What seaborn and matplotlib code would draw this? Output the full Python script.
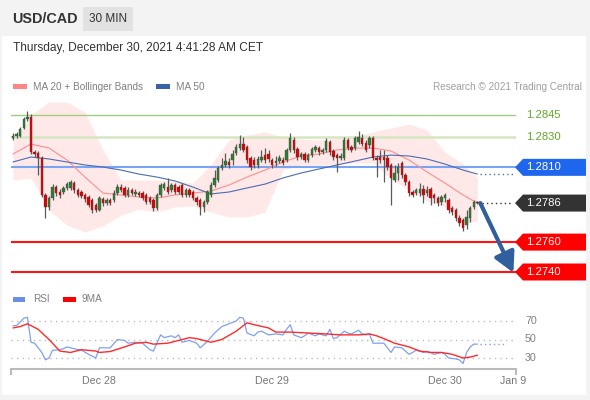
import numpy as np
import pandas as pd
import matplotlib
matplotlib.use("Agg")
import matplotlib.pyplot as plt
import matplotlib.transforms as mtransforms
from matplotlib.patches import Rectangle, Polygon
import seaborn as sns

# ---------------- data ----------------
# 30-minute candles, Dec 27 12:00 -> Dec 30 04:30 (index = candle number)
opens = [1.28296, 1.28310, 1.28310, 1.28363, 1.28423, 1.28437, 1.28202, 1.28196, 1.28162, 1.27915,
         1.27835, 1.27895, 1.27968, 1.27935, 1.27935, 1.27962, 1.27962, 1.27995, 1.27948, 1.27935,
         1.27915, 1.27902, 1.27881, 1.27848, 1.27815, 1.27888, 1.27861, 1.27881, 1.27881, 1.27928,
         1.27968, 1.27962, 1.27915, 1.27948, 1.27922, 1.27928, 1.27928, 1.27915, 1.27895, 1.27881,
         1.27828, 1.27915, 1.27962, 1.27968, 1.27948, 1.27982, 1.27968, 1.27982, 1.27915, 1.27948,
         1.27935, 1.27895, 1.27881, 1.27835, 1.27868, 1.27915, 1.27982, 1.28015, 1.28095, 1.28116,
         1.28136, 1.28149, 1.28196, 1.28229, 1.28256, 1.28236, 1.28162, 1.28149, 1.28116, 1.28149,
         1.28182, 1.28189, 1.28149, 1.28129, 1.28142, 1.28149, 1.28149, 1.28216, 1.28283, 1.28223,
         1.28169, 1.28189, 1.28149, 1.28182, 1.28216, 1.28229, 1.28202, 1.28216, 1.28269, 1.28209,
         1.28182, 1.28162, 1.28162, 1.28283, 1.28236, 1.28229, 1.28269, 1.28296, 1.28263, 1.28249,
         1.28296, 1.28162, 1.28169, 1.28169, 1.28162, 1.28116, 1.28015, 1.28062, 1.28129, 1.28049,
         1.28002, 1.27935, 1.27928, 1.27928, 1.27955, 1.27928, 1.27955, 1.27915, 1.27895, 1.27868,
         1.27895, 1.27881, 1.27828, 1.27815, 1.27761, 1.27748, 1.27714, 1.27761, 1.27835, 1.27868]
highs = [1.28330, 1.28336, 1.28370, 1.28437, 1.28477, 1.28457, 1.28216, 1.28209, 1.28176, 1.27928,
         1.27908, 1.27988, 1.27982, 1.27955, 1.27975, 1.28002, 1.28015, 1.28009, 1.27962, 1.27948,
         1.27928, 1.27915, 1.27895, 1.27861, 1.27908, 1.27902, 1.27895, 1.27895, 1.27948, 1.27988,
         1.27988, 1.27975, 1.27968, 1.27962, 1.27955, 1.27942, 1.27942, 1.27928, 1.27908, 1.27895,
         1.27928, 1.27995, 1.28002, 1.28029, 1.27995, 1.27995, 1.27982, 1.27995, 1.27962, 1.27962,
         1.27948, 1.27908, 1.27895, 1.27881, 1.27948, 1.28002, 1.28082, 1.28109, 1.28162, 1.28196,
         1.28162, 1.28216, 1.28256, 1.28316, 1.28303, 1.28249, 1.28176, 1.28169, 1.28176, 1.28216,
         1.28229, 1.28216, 1.28162, 1.28176, 1.28182, 1.28169, 1.28229, 1.28330, 1.28303, 1.28236,
         1.28202, 1.28202, 1.28196, 1.28236, 1.28249, 1.28243, 1.28229, 1.28296, 1.28283, 1.28223,
         1.28196, 1.28196, 1.28303, 1.28296, 1.28249, 1.28310, 1.28343, 1.28323, 1.28283, 1.28310,
         1.28310, 1.28182, 1.28216, 1.28216, 1.28182, 1.28129, 1.28116, 1.28129, 1.28142, 1.28062,
         1.28015, 1.27948, 1.27962, 1.27995, 1.27982, 1.27975, 1.27968, 1.27928, 1.27908, 1.27915,
         1.27928, 1.27895, 1.27841, 1.27828, 1.27781, 1.27761, 1.27815, 1.27841, 1.27881, 1.27875]
lows = [1.28283, 1.28296, 1.28303, 1.28356, 1.28410, 1.28189, 1.28169, 1.28049, 1.27902, 1.27761,
        1.27815, 1.27881, 1.27908, 1.27895, 1.27922, 1.27948, 1.27948, 1.27928, 1.27902, 1.27895,
        1.27868, 1.27835, 1.27795, 1.27801, 1.27808, 1.27841, 1.27848, 1.27848, 1.27868, 1.27915,
        1.27935, 1.27902, 1.27902, 1.27915, 1.27908, 1.27902, 1.27881, 1.27855, 1.27855, 1.27808,
        1.27815, 1.27902, 1.27948, 1.27922, 1.27935, 1.27922, 1.27922, 1.27902, 1.27902, 1.27902,
        1.27881, 1.27848, 1.27781, 1.27801, 1.27855, 1.27902, 1.27968, 1.28002, 1.28082, 1.28102,
        1.28095, 1.28116, 1.28182, 1.28216, 1.28202, 1.28129, 1.28082, 1.28095, 1.28095, 1.28136,
        1.28129, 1.28136, 1.28095, 1.28109, 1.28129, 1.28116, 1.28136, 1.28202, 1.28196, 1.28149,
        1.28156, 1.28136, 1.28136, 1.28169, 1.28202, 1.28182, 1.28189, 1.28202, 1.28182, 1.28149,
        1.28069, 1.28149, 1.28149, 1.28216, 1.28202, 1.28216, 1.28256, 1.28243, 1.28202, 1.28229,
        1.28149, 1.28035, 1.28129, 1.28002, 1.28082, 1.27848, 1.28002, 1.28015, 1.28029, 1.27982,
        1.27908, 1.27902, 1.27915, 1.27908, 1.27861, 1.27908, 1.27848, 1.27861, 1.27841, 1.27848,
        1.27868, 1.27795, 1.27781, 1.27741, 1.27708, 1.27674, 1.27688, 1.27734, 1.27821, 1.27855]
closes = [1.28310, 1.28323, 1.28356, 1.28423, 1.28437, 1.28202, 1.28189, 1.28162, 1.27915, 1.27835,
          1.27895, 1.27968, 1.27928, 1.27915, 1.27962, 1.27988, 1.28002, 1.27948, 1.27915, 1.27908,
          1.27888, 1.27848, 1.27815, 1.27815, 1.27895, 1.27861, 1.27881, 1.27861, 1.27928, 1.27968,
          1.27948, 1.27915, 1.27948, 1.27928, 1.27935, 1.27915, 1.27895, 1.27868, 1.27868, 1.27828,
          1.27915, 1.27982, 1.27988, 1.27935, 1.27982, 1.27935, 1.27935, 1.27915, 1.27948, 1.27915,
          1.27895, 1.27868, 1.27835, 1.27868, 1.27935, 1.27982, 1.28029, 1.28095, 1.28116, 1.28142,
          1.28116, 1.28189, 1.28236, 1.28256, 1.28216, 1.28149, 1.28102, 1.28116, 1.28156, 1.28169,
          1.28149, 1.28156, 1.28116, 1.28142, 1.28162, 1.28129, 1.28216, 1.28296, 1.28216, 1.28169,
          1.28189, 1.28149, 1.28182, 1.28223, 1.28236, 1.28202, 1.28216, 1.28276, 1.28202, 1.28169,
          1.28162, 1.28176, 1.28283, 1.28229, 1.28216, 1.28296, 1.28303, 1.28256, 1.28216, 1.28296,
          1.28162, 1.28149, 1.28149, 1.28149, 1.28102, 1.28029, 1.28062, 1.28102, 1.28049, 1.28002,
          1.27928, 1.27915, 1.27948, 1.27955, 1.27915, 1.27948, 1.27895, 1.27895, 1.27861, 1.27902,
          1.27915, 1.27815, 1.27801, 1.27761, 1.27728, 1.27694, 1.27768, 1.27828, 1.27868, 1.27861]

# indicators, read every 5 candles
ind_idx = [0, 5, 10, 15, 20, 25, 30, 35, 40, 45, 50, 55, 60, 65, 70, 75, 80, 85, 90, 95,
           100, 105, 110, 115, 120, 125, 129]
ma20 = [1.28189, 1.28256, 1.28229, 1.28149, 1.28035, 1.27928, 1.27915, 1.27902, 1.27895, 1.27915,
        1.27928, 1.27942, 1.27982, 1.28035, 1.28082, 1.28136, 1.28176, 1.28189, 1.28216, 1.28229,
        1.28229, 1.28209, 1.28149, 1.28069, 1.27995, 1.27915, 1.27861]
bb_upper = [1.28269, 1.28450, 1.28537, 1.28537, 1.28470, 1.28216, 1.28015, 1.28015, 1.28015, 1.28009,
            1.27995, 1.28116, 1.28283, 1.28316, 1.28336, 1.28303, 1.28289, 1.28283, 1.28296, 1.28310,
            1.28336, 1.28363, 1.28390, 1.28350, 1.28202, 1.28122, 1.28029]
bb_lower = [1.28015, 1.28029, 1.27815, 1.27714, 1.27667, 1.27708, 1.27781, 1.27821, 1.27801, 1.27835,
            1.27841, 1.27801, 1.27768, 1.27768, 1.27801, 1.28082, 1.28116, 1.28116, 1.28122, 1.28129,
            1.28129, 1.28022, 1.27948, 1.27875, 1.27835, 1.27728, 1.27741]
ma50 = [1.28136, 1.28169, 1.28156, 1.28136, 1.28116, 1.28102, 1.28082, 1.28055, 1.28035, 1.28009,
        1.27968, 1.27922, 1.27935, 1.27962, 1.27988, 1.28029, 1.28062, 1.28089, 1.28116, 1.28142,
        1.28169, 1.28182, 1.28176, 1.28156, 1.28122, 1.28082, 1.28055]

rsi_idx = [0, 1, 3, 4, 5, 6, 8, 9, 10, 11, 12, 14, 15, 17, 19, 21, 23, 24, 26, 27,
           29, 31, 32, 34, 36, 38, 39, 41, 42, 44, 45, 46, 47, 49, 51, 52, 54, 56, 58, 60,
           62, 63, 64, 65, 67, 68, 69, 71, 73, 75, 76, 77, 78, 80, 81, 82, 84, 85, 87, 88,
           89, 90, 92, 93, 94, 96, 97, 98, 99, 100, 101, 103, 105, 106, 108, 110, 111, 112, 114, 115,
           117, 119, 120, 121, 123, 124, 125, 126, 127, 128, 129]
rsi_val = [65, 65, 73, 74, 47, 46, 36, 28, 30, 38.5, 38.5, 40, 42, 40, 38.5, 34, 30, 41, 41, 41,
           50, 49, 46, 47, 46, 39, 37.5, 55, 52, 54, 52, 55, 47, 49, 46, 41, 48, 57, 64, 67,
           70, 74, 73, 57, 54, 58, 59, 55, 56, 55, 61, 66, 55, 52, 54, 57, 54, 56, 54, 61,
           51, 52, 59, 57, 56, 60, 56, 55, 56, 46, 46, 46, 36, 42, 41, 34, 36, 38.5, 36, 37.5,
           34, 36, 34, 30, 29, 28, 24, 36, 42, 45, 45]
ma9_idx = [0, 2, 4, 7, 10, 13, 16, 19, 23, 24, 27, 31, 34, 37, 39, 43, 46, 49, 51, 55,
           58, 62, 65, 67, 71, 73, 77, 82, 87, 91, 96, 99, 101, 103, 106, 110, 113, 116, 119, 122,
           125, 127, 129]
ma9_val = [62.5, 64, 67, 61, 50, 37.5, 36, 39, 37.5, 36, 37, 42, 46, 47, 45, 46, 49, 52, 51, 47,
           50, 59, 68, 66, 62.5, 58, 58, 57, 56, 55, 55, 56, 54, 51, 46, 42, 37.5, 36, 36, 34,
           30, 31, 33]

levels = [1.2845, 1.2830, 1.2810, 1.2760, 1.2740]
level_labels = ["1.2845", "1.2830", "1.2810", "1.2760", "1.2740"]
last_price_label = "1.2786"
tick_pos = [24, 72, 120, 139]
tick_labels = ["Dec 28", "Dec 29", "Dec 30", "Jan 9"]
rsi_levels = [70, 50, 30]

# ---------------- style ----------------
sns.set_theme(style="white")
plt.rcParams['font.family'] = ['Liberation Sans', 'DejaVu Sans']

W, H = 590, 400
fig = plt.figure(figsize=(W / 100, H / 100), dpi=100, facecolor='#f3f3f3')


def fx(x):
    return x / W


def fy(y):
    return 1 - y / H


fig.patches.append(Rectangle((fx(2), fy(395)), (586 - 2) / W, (395 - 36) / H,
                             transform=fig.transFigure, facecolor='white',
                             edgecolor='none', zorder=-10))

# header
fig.text(fx(12), fy(19), "USD/CAD", fontsize=10.4, fontweight='bold', color='#333333', va='center')
fig.patches.append(Rectangle((fx(83), fy(31)), 50 / W, 24 / H, transform=fig.transFigure,
                             facecolor='#e2e2e2', edgecolor='none', zorder=-5))
fig.text(fx(108), fy(19.5), "30 MIN", fontsize=8.5, color='#333333', ha='center', va='center')
fig.text(fx(13), fy(48), "Thursday, December 30, 2021 4:41:28 AM CET", fontsize=8.6,
         color='#333333', va='center')

# legend top
fig.patches.append(Rectangle((fx(13), fy(89)), 14 / W, 5 / H, transform=fig.transFigure,
                             facecolor='#ff8585', edgecolor='none', zorder=-5))
fig.text(fx(33), fy(86.5), "MA 20 + Bollinger Bands", fontsize=7.2, color='#808080', va='center')
fig.patches.append(Rectangle((fx(156), fy(89)), 14 / W, 5 / H, transform=fig.transFigure,
                             facecolor='#3a62a8', edgecolor='none', zorder=-5))
fig.text(fx(176), fy(86.5), "MA 50", fontsize=7.2, color='#808080', va='center')
fig.text(fx(582), fy(86.5), "Research \u00a9 2021 Trading Central", fontsize=7.2,
         color='#a0a0a0', va='center', ha='right')

XMIN, XMAX = (11 - 13) / 3.6, (516 - 13) / 3.6

# ---------------- main price panel ----------------
ax = fig.add_axes([fx(11), fy(285), (516 - 11) / W, 190 / H])
ax.set_facecolor('none')
ax.set_xlim(XMIN, XMAX)
ax.set_ylim(1.27313, 1.28584)
ax.axis('off')

ax.fill_between(ind_idx, bb_lower, bb_upper, color='#ffe8e8', lw=0, zorder=1)

level_styles = [('#9fcf7c', 1.0), ('#d4e7c1', 1.8), ('#78a4f6', 1.5), ('#ff1414', 1.5), ('#ff1414', 1.5)]
for lv, (c, lw) in zip(levels, level_styles):
    ax.axhline(lv, color=c, lw=lw, zorder=2)

df_ind = pd.DataFrame({'idx': ind_idx, 'ma20': ma20, 'ma50': ma50})
sns.lineplot(data=df_ind, x='idx', y='ma20', ax=ax, color='#ff8e8e', linewidth=0.8, zorder=3)
sns.lineplot(data=df_ind, x='idx', y='ma50', ax=ax, color='#4a6db2', linewidth=0.8, zorder=3)
ax.set_xlabel('')
ax.set_ylabel('')
ax.set_xlim(XMIN, XMAX)
ax.set_ylim(1.27313, 1.28584)

# candles
idx = np.arange(len(closes))
o = np.array(opens)
c = np.array(closes)
hi = np.array(highs)
lo = np.array(lows)
ax.vlines(idx, lo, hi, color='#5a5a5a', lw=0.9, zorder=4)
bottoms = np.minimum(o, c)
heights = np.maximum(np.abs(c - o), 0.00004)
cols = np.where(c >= o, '#2e7d32', '#e00000')
ax.bar(idx, heights, bottom=bottoms, width=0.72, color=cols, edgecolor='#444444',
       linewidth=0.25, zorder=5)

# dotted continuations
ax.plot([ind_idx[-1] + 0.8, 138.8], [ma50[-1], ma50[-1]], ls=(0, (1, 2.2)), color='#4a6db2',
        lw=1.0, zorder=3, clip_on=False)
ax.plot([idx[-1] + 1.2, 138.8], [closes[-1], closes[-1]], ls=(0, (1, 2.2)), color='#333333',
        lw=1.0, zorder=3, clip_on=False)

# forecast arrow
ax.annotate('', xy=(139.0, 1.27395), xytext=(129.8, closes[-1]),
            arrowprops=dict(arrowstyle='-|>,head_length=0.6,head_width=0.32', color='#2f5f9f',
                            lw=3.0, shrinkA=0, shrinkB=0, mutation_scale=20),
            annotation_clip=False, zorder=6)

# labels on the right
blend = mtransforms.blended_transform_factory(fig.transFigure, ax.transData)
hh = 8.5 * (1.28584 - 1.27313) / 190


def tag(price, text, face):
    pts = [(fx(515), price), (fx(523), price + hh), (fx(586), price + hh),
           (fx(586), price - hh), (fx(523), price - hh)]
    ax.add_patch(Polygon(pts, closed=True, facecolor=face, edgecolor='none',
                         transform=blend, clip_on=False, zorder=7))
    ax.text(fx(526), price, text, transform=blend, color='white', fontsize=8.1,
            va='center', ha='left', clip_on=False, zorder=8)


for lv, lab in zip(levels[:2], level_labels[:2]):
    ax.text(fx(526), lv, lab, transform=blend, color='#64a82a', fontsize=8.1,
            va='center', ha='left', clip_on=False)
tag(levels[2], level_labels[2], '#1f66ee')
tag(closes[-1], last_price_label, '#333333')
tag(levels[3], level_labels[3], '#ff0000')
tag(levels[4], level_labels[4], '#ff0000')

# ---------------- RSI panel ----------------
fig.patches.append(Rectangle((fx(13), fy(302)), 12 / W, 5 / H, transform=fig.transFigure,
                             facecolor='#6b8fe6', edgecolor='none', zorder=-5))
fig.text(fx(33), fy(299.5), "RSI", fontsize=7.2, color='#808080', va='center')
fig.patches.append(Rectangle((fx(63), fy(302)), 13 / W, 5 / H, transform=fig.transFigure,
                             facecolor='#ff0000', edgecolor='none', zorder=-5))
fig.text(fx(82), fy(299.5), "9MA", fontsize=7.2, color='#808080', va='center')

axr = fig.add_axes([fx(11), fy(369), (516 - 11) / W, 59 / H])
axr.set_facecolor('none')
for lv in rsi_levels:
    axr.axhline(lv, color='#bdbdbd', lw=1.0, ls=(0, (1, 3)), zorder=1)
df_rsi = pd.DataFrame({'idx': rsi_idx, 'rsi': rsi_val})
df_ma9 = pd.DataFrame({'idx': ma9_idx, 'ma9': ma9_val})
sns.lineplot(data=df_rsi, x='idx', y='rsi', ax=axr, color='#7fa0f0', linewidth=0.9, zorder=2)
sns.lineplot(data=df_ma9, x='idx', y='ma9', ax=axr, color='#ff2a2a', linewidth=1.0, zorder=3)
axr.plot([rsi_idx[-1] + 0.6, 137.0], [rsi_val[-1], rsi_val[-1]], ls=(0, (1, 2.2)),
         color='#7fa0f0', lw=1.0, zorder=2)
axr.set_xlim(XMIN, XMAX)
axr.set_ylim(18.1, 81.9)
axr.set_xlabel('')
axr.set_ylabel('')
for s in ['top', 'right', 'left']:
    axr.spines[s].set_visible(False)
axr.spines['bottom'].set_color('#bbbbbb')
axr.spines['bottom'].set_linewidth(1.5)
axr.set_yticks([])
axr.set_xticks(tick_pos)
axr.set_xticklabels(tick_labels, fontsize=7.7, color='#777777')
axr.tick_params(axis='x', length=0, pad=5)
for xe in [0.0, 1.0]:
    axr.plot([xe, xe], [0, -6 / 59], transform=axr.transAxes, color='#bbbbbb', lw=1.5,
             clip_on=False, solid_capstyle='butt')

blend_r = mtransforms.blended_transform_factory(fig.transFigure, axr.transData)
for lv in rsi_levels:
    axr.text(fx(525), lv, str(lv), transform=blend_r, color='#808080', fontsize=7.7,
             va='center', ha='left', clip_on=False)

fig.savefig("out.png", dpi=100, facecolor=fig.get_facecolor())
